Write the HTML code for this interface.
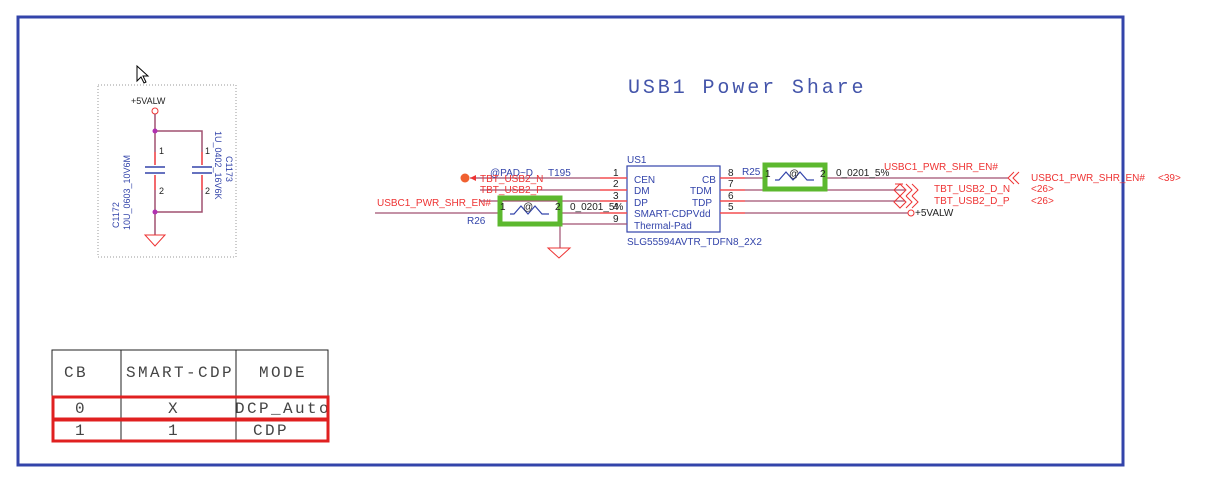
<!DOCTYPE html>
<html><head><style>
html,body{margin:0;padding:0;background:#fff;width:1210px;height:492px;overflow:hidden}
svg{display:block}
text{font-family:"Liberation Sans",sans-serif}
text.m,.m text{font-family:"Liberation Mono",monospace}
</style></head><body>
<svg width="1210" height="492" viewBox="0 0 1210 492" xmlns="http://www.w3.org/2000/svg">
<rect x="18" y="17" width="1105" height="448" fill="none" stroke="#3344aa" stroke-width="3"/>
<text x="628" y="93" class="m" font-size="20" letter-spacing="2.9" fill="#4455aa" xml:space="preserve">USB1 Power Share</text>
<path d="M137 66 L137 81 L141 77 L144 83 L146 82 L143 76 L148 76 Z" fill="#fff" stroke="#000" stroke-width="1"/>
<rect x="98" y="85" width="138" height="172" fill="none" stroke="#999" stroke-dasharray="1,2"/>
<text x="131" y="104" font-size="9" fill="#222">+5VALW</text>
<circle cx="155" cy="111" r="3" fill="none" stroke="#e33"/>
<g stroke="#a05070" stroke-width="1.5" fill="none">
<path d="M155 114 V165 M155 175 V235"/>
<path d="M155 131 H202 V165 M202 175 V212 H155"/>
</g>
<g stroke="#f55" stroke-width="1.5"><path d="M155 152V165M155 175V190M202 152V165M202 175V190"/></g>
<g stroke="#3344aa" stroke-width="1.5"><path d="M145 167H165M145 173H165M192 167H212M192 173H212"/></g>
<circle cx="155" cy="131" r="2.5" fill="#b030b0"/><circle cx="155" cy="212" r="2.5" fill="#b030b0"/>
<text x="159" y="154" font-size="9" fill="#222">1</text><text x="159" y="194" font-size="9" fill="#222">2</text>
<text x="205" y="154" font-size="9" fill="#222">1</text><text x="205" y="194" font-size="9" fill="#222">2</text>
<path d="M145 235H165L155 246Z" fill="none" stroke="#e33"/>
<text transform="translate(119,228) rotate(-90)" font-size="9" fill="#3344aa">C1172</text>
<text transform="translate(130,230) rotate(-90)" font-size="9" fill="#3344aa">10U_0603_10V6M</text>
<text transform="translate(215,131) rotate(90)" font-size="9" fill="#3344aa">1U_0402_16V6K</text>
<text transform="translate(226,156) rotate(90)" font-size="9" fill="#3344aa">C1173</text>
<rect x="627" y="166" width="93" height="66" fill="none" stroke="#3344aa" stroke-width="1.2"/>
<text x="627" y="163" font-size="10" fill="#3344aa">US1</text>
<text x="627" y="245" font-size="10" fill="#3344aa">SLG55594AVTR_TDFN8_2X2</text>
<g font-size="10" fill="#3344aa">
<text x="634" y="183">CEN</text><text x="634" y="194">DM</text><text x="634" y="206">DP</text>
<text x="634" y="217">SMART-CDPVdd</text><text x="634" y="229">Thermal-Pad</text>
<text x="702" y="183">CB</text><text x="690" y="194">TDM</text><text x="692" y="206">TDP</text>
</g>
<g font-size="10" fill="#222">
<text x="613" y="176">1</text><text x="613" y="187">2</text><text x="613" y="199">3</text><text x="613" y="210">4</text><text x="613" y="222">9</text>
<text x="728" y="176">8</text><text x="728" y="187">7</text><text x="728" y="199">6</text><text x="728" y="210">5</text>
</g>
<g stroke="#a05070" stroke-width="1.2" fill="none">
<path d="M470 178H627M480 190H627M480 201H627M375 213H500M560 213H627M560 224H627M560 224V248"/>
<path d="M720 178H765M825 178H1008M720 190H905M720 201H905M720 213H908"/>
</g>
<g stroke="#f44" stroke-width="1.2"><path d="M600 178H627M600 190H627M600 201H627M600 213H627M720 178H745M720 190H745M720 201H745M720 213H745"/></g>
<circle cx="465" cy="178" r="4.5" fill="#f06030"/>
<path d="M470 178L476 175V181Z" fill="#e33"/>
<path d="M548 248H570L559 258Z" fill="none" stroke="#e33"/>
<text x="490" y="176" font-size="10" fill="#3344aa">@PAD~D</text>
<text x="548" y="176" font-size="10" fill="#3344aa">T195</text>
<text x="480" y="182" font-size="10" fill="#e33">TBT_USB2_N</text>
<text x="480" y="193" font-size="10" fill="#e33">TBT_USB2_P</text>
<text x="377" y="206" font-size="10" fill="#e33">USBC1_PWR_SHR_EN#</text>
<text x="467" y="224" font-size="10" fill="#3344aa">R26</text>
<text x="570" y="210" font-size="10" fill="#222">0_0201_5%</text>
<rect x="500" y="198" width="60" height="26" fill="none" stroke="#5cb82e" stroke-width="5"/>
<path d="M510 214H514L521 206L528 214L535 206L542 214L549 214" fill="none" stroke="#3344aa" stroke-width="1.2"/>
<text x="523" y="210" font-size="10" fill="#222">@</text>
<text x="500" y="210" font-size="10" fill="#222">1</text><text x="555" y="210" font-size="10" fill="#222">2</text>
<rect x="765" y="165" width="60" height="24" fill="none" stroke="#5cb82e" stroke-width="5"/>
<path d="M775 180H779L786 172L793 180L800 172L807 180L814 180" fill="none" stroke="#3344aa" stroke-width="1.2"/>
<text x="789" y="177" font-size="10" fill="#222">@</text>
<text x="765" y="177" font-size="10" fill="#222">1</text><text x="820" y="177" font-size="10" fill="#222">2</text>
<text x="742" y="175" font-size="10" fill="#3344aa">R25</text>
<text x="836" y="176" font-size="10" fill="#222">0_0201_5%</text>
<text x="884" y="170" font-size="10" fill="#e33">USBC1_PWR_SHR_EN#</text>
<g fill="none" stroke="#e33" stroke-width="1">
<path d="M1014 172L1008 178L1014 184M1019 172L1013 178L1019 184"/>
<path d="M900 184L894 190L900 196L906 190Z M906 184L912 190L906 196 M912 184L918 190L912 196 M895 184L903 184"/>
<path d="M900 196L894 202L900 208L906 202Z M906 196L912 202L906 208 M912 196L918 202L912 208"/>
</g>
<circle cx="911" cy="213" r="3" fill="none" stroke="#e33"/>
<text x="915" y="216" font-size="10" fill="#222">+5VALW</text>
<g font-size="10" fill="#e33">
<text x="1031" y="181">USBC1_PWR_SHR_EN#</text><text x="1158" y="181">&lt;39&gt;</text>
<text x="934" y="192">TBT_USB2_D_N</text><text x="1031" y="192">&lt;26&gt;</text>
<text x="934" y="204">TBT_USB2_D_P</text><text x="1031" y="204">&lt;26&gt;</text>
</g>
<g stroke="#222" stroke-width="1" fill="none">
<rect x="52" y="350" width="276" height="90"/>
<path d="M121 350V440M236 350V440M52 397H328M52 419H328"/>
</g>
<g class="m" font-size="16" letter-spacing="2.4" fill="#444" text-anchor="middle">
<text x="76" y="377">CB</text><text x="180" y="377">SMART-CDP</text><text x="283" y="377">MODE</text>
<text x="81" y="413">0</text><text x="174" y="413">X</text><text x="283" y="413">DCP_Auto</text>
<text x="81" y="435">1</text><text x="174" y="435">1</text><text x="271" y="435">CDP</text>
</g>
<rect x="53" y="397" width="275" height="22" fill="none" stroke="#e02020" stroke-width="3"/>
<rect x="53" y="420" width="275" height="21" fill="none" stroke="#e02020" stroke-width="3"/>
</svg>
</body></html>
